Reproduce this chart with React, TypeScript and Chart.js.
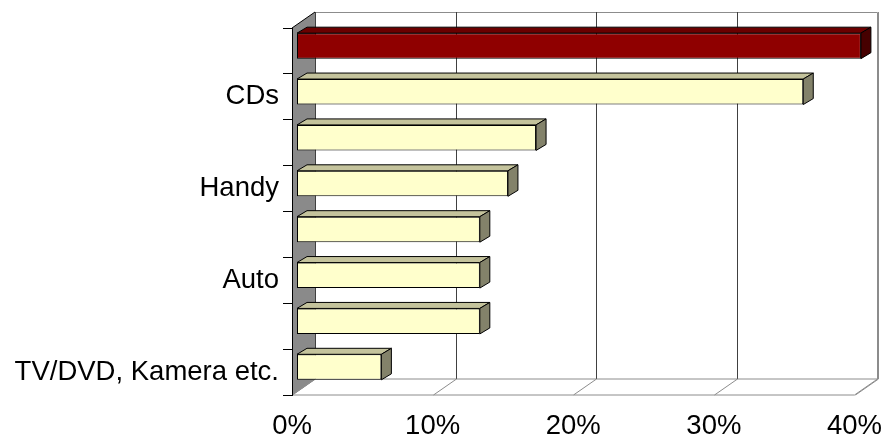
import React, { useEffect, useRef } from "react";
import { Chart, registerables } from "chart.js";

Chart.register(...registerables);

// ---- data ----
const categories = ["", "CDs", "", "Handy", "", "Auto", "", "TV/DVD, Kamera etc."];
const shares = [40.1, 36, 17, 15, 13, 13, 13, 6];
const xTickValues = [0, 10, 20, 30, 40];
const highlightIndex = 0;

// ---- styling ----
const FONT = "'Liberation Sans', Arial, sans-serif";
const DEPTH = { dx: 23, dy: -16 };
const BAR_SHIFT = { dx: 5, dy: -5 };
const BAR_DEPTH = { dx: 10, dy: -6 };
const COLORS = {
  front: "#FFFFCC",
  top: "#C4C39C",
  side: "#83826A",
  hiFront: "#8F0000",
  hiTop: "#6B0000",
  hiSide: "#460000",
  wall: "#8A8A8A",
  grid: "#404040",
  edge: "#8C8C8C",
};

const threeD = {
  id: "threeD",
  beforeDraw(chart: any) {
    const { ctx, chartArea: a, scales } = chart;
    const xs = scales.x;
    const L = a.left, R = a.right, T = a.top, B = a.bottom;
    const { dx, dy } = DEPTH;
    ctx.save();
    // back wall
    ctx.fillStyle = "#ffffff";
    ctx.fillRect(L + dx, T + dy, R - L, B - T);
    // floor
    ctx.beginPath();
    ctx.moveTo(L, B);
    ctx.lineTo(R, B);
    ctx.lineTo(R + dx, B + dy);
    ctx.lineTo(L + dx, B + dy);
    ctx.closePath();
    ctx.fillStyle = "#ffffff";
    ctx.fill();
    ctx.strokeStyle = COLORS.edge;
    ctx.lineWidth = 1;
    ctx.stroke();
    // back wall top & right edges
    ctx.beginPath();
    ctx.moveTo(L + dx, Math.round(T + dy) + 0.5);
    ctx.lineTo(R + dx, Math.round(T + dy) + 0.5);
    ctx.lineTo(R + dx, B + dy);
    ctx.strokeStyle = COLORS.edge;
    ctx.stroke();
    // gridlines on back wall and floor
    xTickValues.forEach((v) => {
      const px = Math.round(xs.getPixelForValue(v) + dx) + 0.5;
      ctx.beginPath();
      ctx.moveTo(px, T + dy);
      ctx.lineTo(px, B + dy);
      ctx.strokeStyle = v === 40 ? COLORS.edge : COLORS.grid;
      ctx.stroke();
      ctx.beginPath();
      ctx.moveTo(px, B + dy);
      ctx.lineTo(px - dx, B);
      ctx.strokeStyle = COLORS.edge;
      ctx.stroke();
    });
    // left wall
    ctx.beginPath();
    ctx.moveTo(L, T);
    ctx.lineTo(L + dx, T + dy);
    ctx.lineTo(L + dx, B + dy);
    ctx.lineTo(L, B);
    ctx.closePath();
    ctx.fillStyle = COLORS.wall;
    ctx.fill();
    ctx.beginPath();
    ctx.moveTo(L, T);
    ctx.lineTo(L + dx, T + dy);
    ctx.strokeStyle = "#000";
    ctx.stroke();
    ctx.beginPath();
    ctx.moveTo(L, B);
    ctx.lineTo(L + dx, B + dy);
    ctx.strokeStyle = COLORS.edge;
    ctx.stroke();
    ctx.restore();
  },
  beforeDatasetsDraw(chart: any) {
    chart.ctx.save();
    chart.ctx.translate(BAR_SHIFT.dx, BAR_SHIFT.dy);
  },
  afterDatasetsDraw(chart: any) {
    const ctx = chart.ctx;
    const meta = chart.getDatasetMeta(0);
    const { dx, dy } = BAR_DEPTH;
    meta.data.forEach((el: any, i: number) => {
      const { x, y, base, height } = el;
      const top = y - height / 2;
      const bot = y + height / 2;
      const hi = i === highlightIndex;
      ctx.lineWidth = 1;
      ctx.strokeStyle = "#000";
      // top face
      ctx.beginPath();
      ctx.moveTo(base, top);
      ctx.lineTo(x, top);
      ctx.lineTo(x + dx, top + dy);
      ctx.lineTo(base + dx, top + dy);
      ctx.closePath();
      ctx.fillStyle = hi ? COLORS.hiTop : COLORS.top;
      ctx.fill();
      ctx.stroke();
      // right face
      ctx.beginPath();
      ctx.moveTo(x, top);
      ctx.lineTo(x + dx, top + dy);
      ctx.lineTo(x + dx, bot + dy);
      ctx.lineTo(x, bot);
      ctx.closePath();
      ctx.fillStyle = hi ? COLORS.hiSide : COLORS.side;
      ctx.fill();
      ctx.stroke();
    });
    ctx.restore();
  },
};

export default function App() {
  const canvasRef = useRef<HTMLCanvasElement | null>(null);

  useEffect(() => {
    const canvas = canvasRef.current;
    if (!canvas) return;
    const chart = new Chart(canvas, {
      type: "bar",
      data: {
        labels: categories,
        datasets: [
          {
            data: shares,
            backgroundColor: shares.map((_, i) => (i === highlightIndex ? COLORS.hiFront : COLORS.front)),
            borderColor: "#000",
            borderWidth: 1,
            borderSkipped: false,
            categoryPercentage: 1,
            barPercentage: 0.556,
            clip: false as any,
          },
        ],
      },
      plugins: [threeD],
      options: {
        indexAxis: "y",
        responsive: false,
        animation: false,
        layout: { padding: { top: 28, right: 27.5, left: 0, bottom: 0 } },
        plugins: { legend: { display: false }, tooltip: { enabled: false } },
        scales: {
          x: {
            type: "linear",
            min: 0,
            max: 40,
            afterFit: (s: any) => {
              s.height = 41;
              s.paddingLeft = 0;
              s.paddingRight = 0;
            },
            ticks: {
              stepSize: 10,
              callback: (v: any) => v + "%",
              color: "#000",
              font: { family: FONT, size: 27.5 },
              padding: 15,
              maxRotation: 0,
            },
            grid: { display: false, drawTicks: false },
            border: { display: false },
          },
          y: {
            afterFit: (s: any) => {
              s.width = 292;
              s.paddingTop = 0;
              s.paddingBottom = 0;
            },
            ticks: {
              color: "#000",
              font: { family: FONT, size: 27.5 },
              padding: 4,
              autoSkip: false,
            },
            grid: {
              display: true,
              drawOnChartArea: false,
              drawTicks: true,
              tickLength: 9,
              color: "#000",
              offset: true,
            },
            border: { display: true, color: "#000", width: 1 },
          },
        },
      },
    } as any);
    return () => chart.destroy();
  }, []);

  return (
    <div style={{ position: "fixed", left: 0, top: 0, width: 882, height: 436, background: "#fff" }}>
      <canvas ref={canvasRef} width={882} height={436} style={{ display: "block" }} />
    </div>
  );
}
